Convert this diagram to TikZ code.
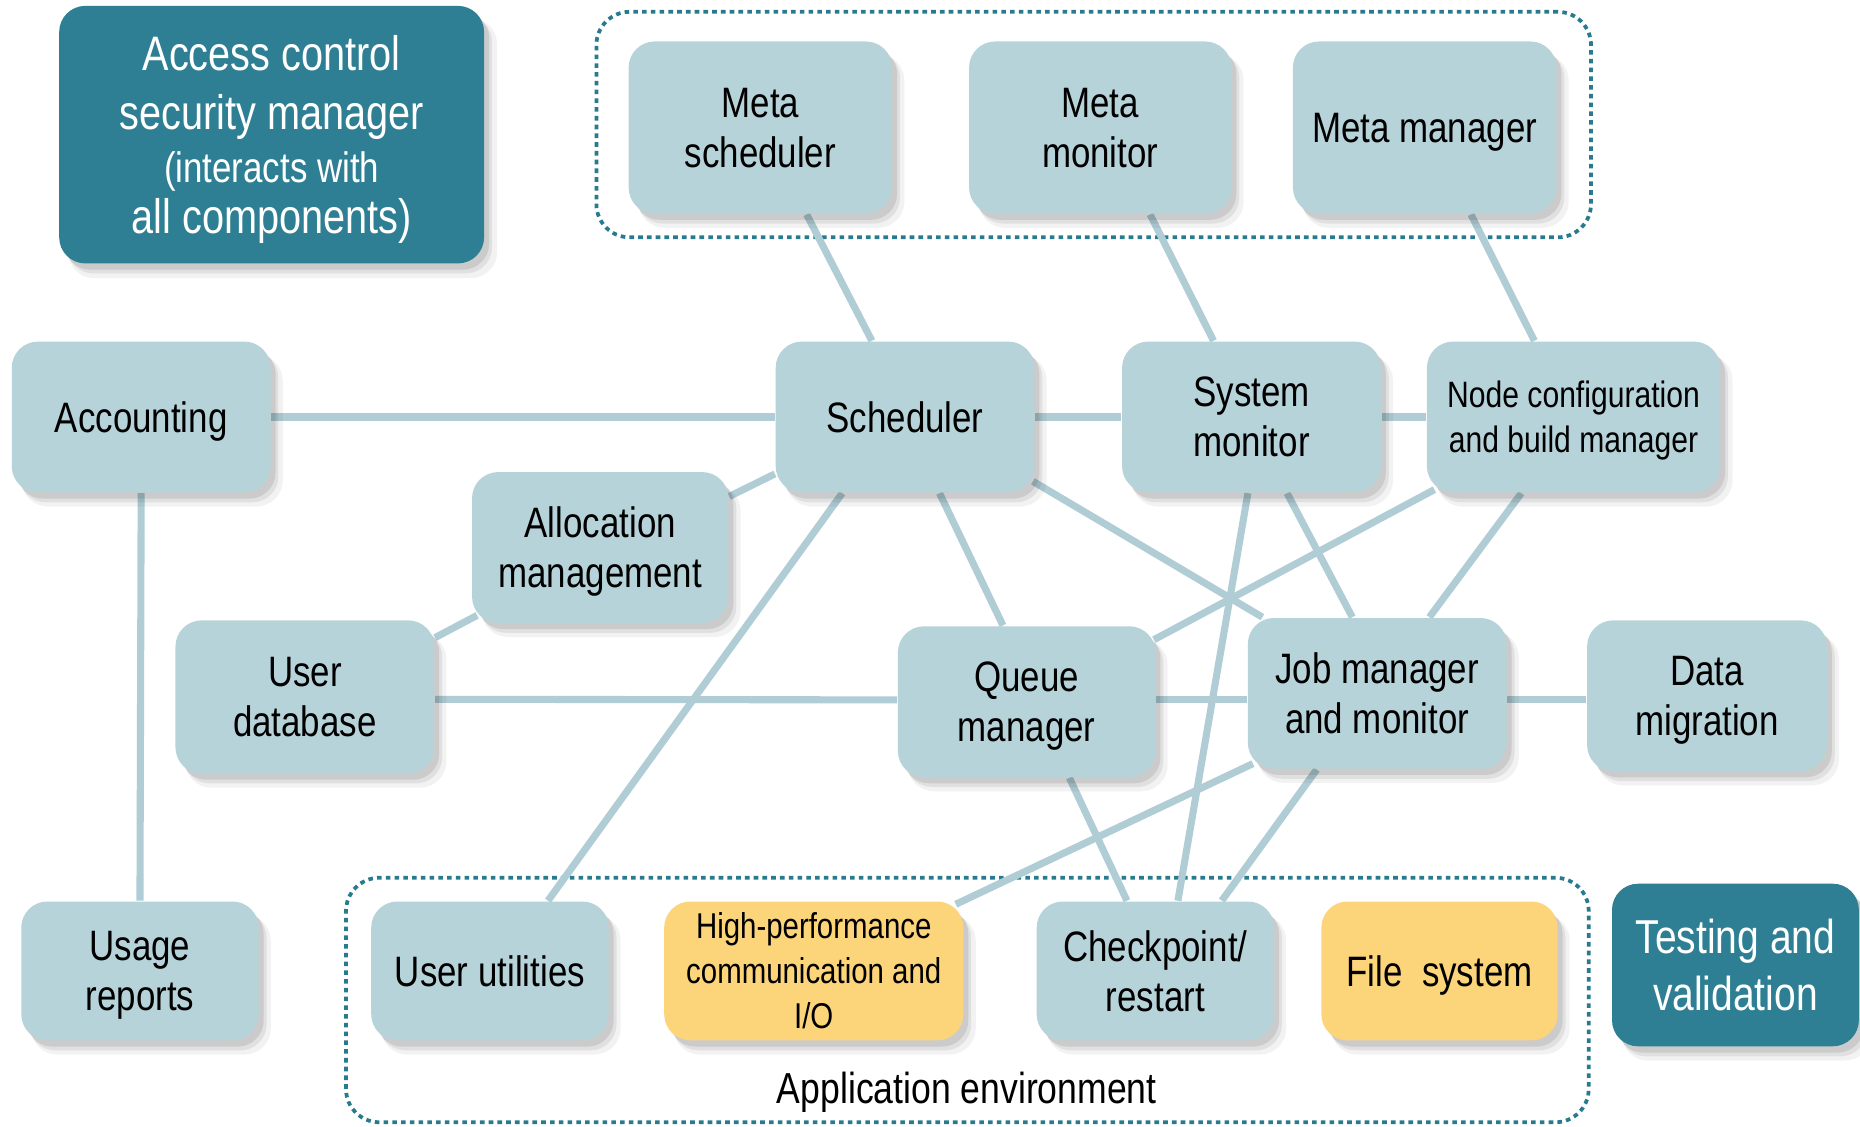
\documentclass[tikz,border=0pt]{standalone}
\usepackage{fontspec}
\setmainfont{Liberation Sans}[FakeStretch=0.82]
\usetikzlibrary{shadows,backgrounds}

\definecolor{boxblue}{RGB}{183,211,218}
\definecolor{linkblue}{RGB}{176,205,213}
\definecolor{darkteal}{RGB}{46,127,147}
\definecolor{groupteal}{RGB}{40,122,142}
\definecolor{sand}{RGB}{252,212,122}

\tikzset{
  softshadow/.style={
    general shadow={fill=black, opacity=0.05, shadow xshift=2.6pt, shadow yshift=-3.2pt, shadow scale=1.01},
    general shadow={fill=black, opacity=0.07, shadow xshift=1.9pt, shadow yshift=-2.4pt},
    general shadow={fill=black, opacity=0.09, shadow xshift=1.2pt, shadow yshift=-1.5pt}},
  box/.style={rectangle, rounded corners=0.22cm, fill=boxblue, inner sep=0pt,
    align=center, text=black, text depth=0pt, font=\fontsize{10.2}{12}\selectfont, softshadow},
  tealbox/.style={box, fill=darkteal, text=white},
  sandbox/.style={box, fill=sand},
  sz/.style 2 args={minimum width=#1, minimum height=#2},
  link/.style={draw=linkblue, line width=1.7pt},
  grp/.style={draw=groupteal, line width=0.9pt, dash pattern=on 1.1pt off 1.0pt,
    rounded corners=0.28cm, inner sep=0pt},
  small/.style={font=\fontsize{8.8}{10.8}\selectfont},
}

\begin{document}
\begin{tikzpicture}[x=0.01cm, y=-0.01cm]
\useasboundingbox (0,0) rectangle (1568,950);

% security box
\node[tealbox, sz={3.58cm}{2.17cm}, font=\fontsize{11.6}{14.2}\selectfont] (acm) at (229,113.5)
  {Access control\\ security manager\\[-1.6pt]
   \fontsize{10.2}{12.2}\selectfont (interacts with\\[-1.8pt] all components)};

% meta layer
\node[box, sz={2.22cm}{1.45cm}] (ms) at (641,107.5) {Meta\\ scheduler};
\node[box, sz={2.21cm}{1.45cm}] (mmon) at (927.5,107.5) {Meta\\ monitor};
\node[box, sz={2.22cm}{1.45cm}] (mman) at (1201,107.5) {Meta manager};

% core row
\node[box, sz={2.18cm}{1.27cm}] (acc) at (119,351.5) {Accounting};
\node[box, sz={2.18cm}{1.27cm}] (sched) at (763,351.5) {Scheduler};
\node[box, sz={2.18cm}{1.27cm}] (sysmon) at (1055,351.5) {System\\ monitor};
\node[box, small, sz={2.47cm}{1.27cm}] (nodecfg) at (1326.5,351.5)
  {Node configuration\\ and build manager};

\node[box, sz={2.16cm}{1.27cm}] (alloc) at (506,461.5) {Allocation\\ management};

% middle row
\node[box, sz={2.18cm}{1.29cm}] (userdb) at (257,587.5) {User\\ database};
\node[box, sz={2.17cm}{1.27cm}] (queue) at (865.5,591.5) {Queue\\ manager};
\node[box, sz={2.18cm}{1.27cm}] (job) at (1161,584.5) {Job manager\\ and monitor};
\node[box, sz={2.02cm}{1.27cm}] (data) at (1439,586.5) {Data\\ migration};

% bottom row
\node[box, sz={2.00cm}{1.17cm}] (usage) at (118,818.5) {Usage\\ reports};
\node[box, sz={2.00cm}{1.17cm}] (uutil) at (413,818.5) {User utilities};
\node[sandbox, font=\fontsize{8.6}{10.8}\selectfont, sz={2.52cm}{1.17cm}] (hpc) at (686,818.5)
  {High-performance\\ communication and\\ I/O};
\node[box, sz={2.00cm}{1.17cm}] (ckpt) at (974,818.5) {Checkpoint/\\ restart};
\node[sandbox, sz={1.99cm}{1.17cm}] (fs) at (1213.5,818.5) {File\ \ system};

\node[tealbox, sz={2.08cm}{1.37cm}, font=\fontsize{11.4}{13.6}\selectfont] (test) at (1463,813.5)
  {Testing and\\ validation};

\node[font=\fontsize{10.4}{12}\selectfont] (applbl) at (815,921) {Application environment};

\begin{scope}[on background layer]
  \fill[white] (0,0) rectangle (1568,950);

  % dotted group frames
  \node[grp, sz={8.38cm}{1.90cm}] (metagrp) at (922,105) {};
  \node[grp, sz={10.47cm}{2.06cm}] (appgrp) at (815.5,843) {};

  % connectors
  \draw[link] ([shift={(39,0)}]ms.south) -- ([shift={(-28,0)}]sched.north);
  \draw[link] ([shift={(42,0)}]mmon.south) -- ([shift={(-32,0)}]sysmon.north);
  \draw[link] ([shift={(39,0)}]mman.south) -- ([shift={(-33,0)}]nodecfg.north);

  \draw[link] (acc.east) -- (sched.west);
  \draw[link] (sched.east) -- (sysmon.west);
  \draw[link] (sysmon.east) -- (nodecfg.west);
  \draw[link] (acc.south) -- (usage.north);

  \draw[link] ([shift={(0,-43)}]alloc.east) -- ([shift={(0,48)}]sched.west);
  \draw[link] ([shift={(0,-50)}]userdb.east) -- ([shift={(5,-7)}]alloc.south west);

  \draw[link] ([shift={(0,2)}]userdb.east) -- ([shift={(0,-1.5)}]queue.west);
  \draw[link] ([shift={(0,-1.5)}]queue.east) -- ([shift={(0,5.5)}]job.west);
  \draw[link] ([shift={(0,5)}]job.east) -- ([shift={(0,3)}]data.west);

  \draw[link] ([shift={(-53,0)}]sched.south) -- ([shift={(49,0)}]uutil.north);
  \draw[link] ([shift={(29,0)}]sched.south) -- ([shift={(-20,0)}]queue.north);
  \draw[link] ([shift={(-2,-10)}]sched.south east) -- ([shift={(13,0)}]job.north west);

  \draw[link] ([shift={(-3,0)}]sysmon.south) -- ([shift={(19,0)}]ckpt.north);
  \draw[link] ([shift={(30,0)}]sysmon.south) -- ([shift={(-21,0)}]job.north);

  \draw[link] ([shift={(7,-3)}]nodecfg.south west) -- ([shift={(-2,12)}]queue.north east);
  \draw[link] ([shift={(-44,0)}]nodecfg.south) -- ([shift={(44,0)}]job.north);

  \draw[link] ([shift={(36,0)}]queue.south) -- ([shift={(-24,0)}]ckpt.north);
  \draw[link] ([shift={(5,-5)}]job.south west) -- ([shift={(-7,3)}]hpc.north east);
  \draw[link] ([shift={(-51,0)}]job.south) -- ([shift={(56,0)}]ckpt.north);
\end{scope}
\end{tikzpicture}
\end{document}
